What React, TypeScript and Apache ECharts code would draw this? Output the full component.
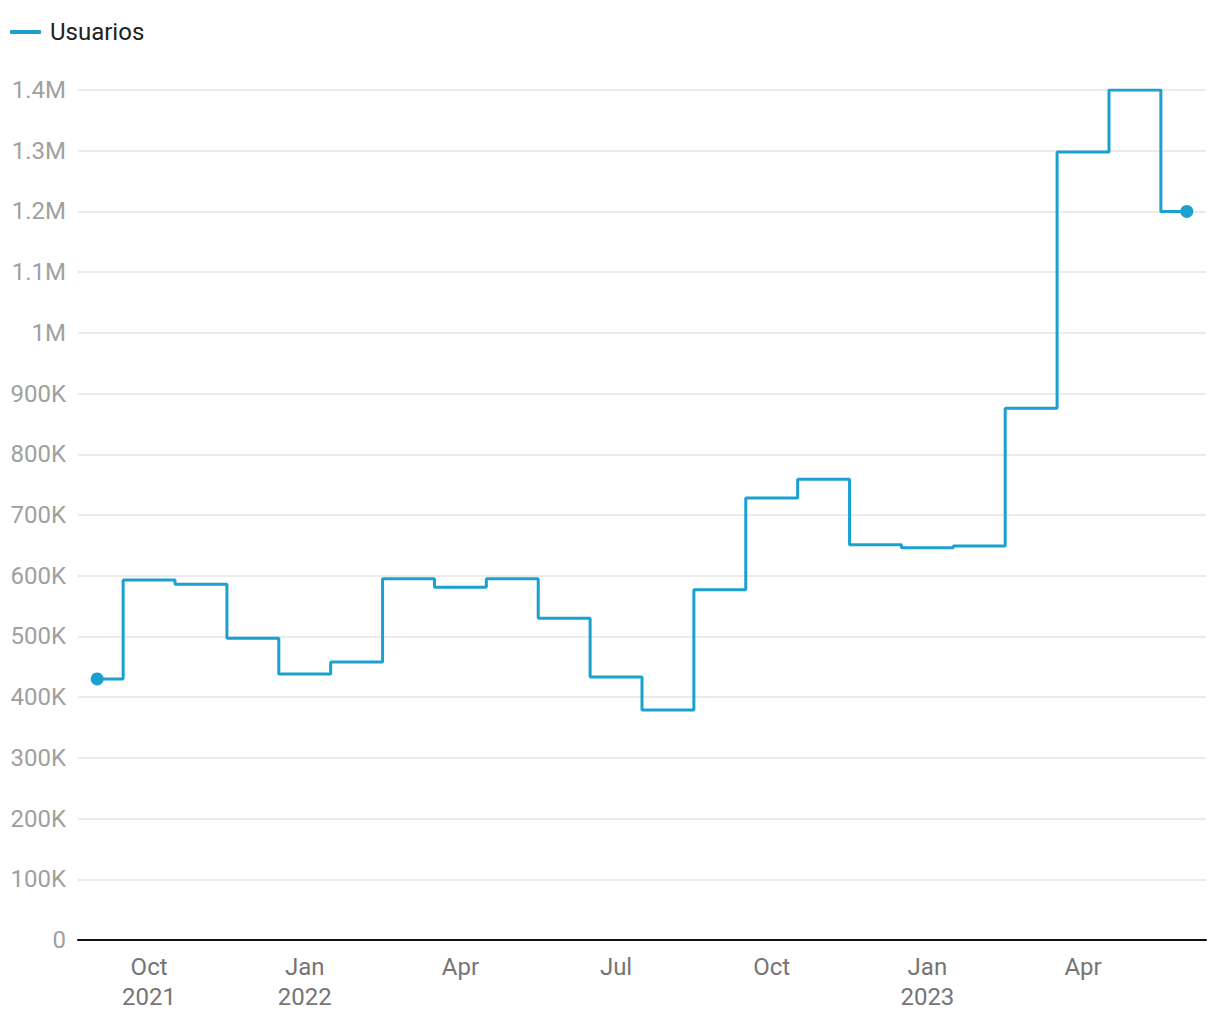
import React, { useEffect, useRef } from "react";
import * as echarts from "echarts";

const months = [
  "Sep 2021", "Oct 2021", "Nov 2021", "Dec 2021", "Jan 2022", "Feb 2022", "Mar 2022",
  "Apr 2022", "May 2022", "Jun 2022", "Jul 2022", "Aug 2022", "Sep 2022", "Oct 2022",
  "Nov 2022", "Dec 2022", "Jan 2023", "Feb 2023", "Mar 2023", "Apr 2023", "May 2023", "Jun 2023",
];
const usuarios = [
  430000, 593000, 586000, 497000, 438000, 458000, 595000, 581000, 595000, 530000, 433000,
  379000, 577000, 728000, 759000, 651000, 646000, 649000, 876000, 1298000, 1400000, 1200000,
];
const xTickIndices = [1, 4, 7, 10, 13, 16, 19];
const xTickLabels = ["Oct\n2021", "Jan\n2022", "Apr", "Jul", "Oct", "Jan\n2023", "Apr"];

const fmtY = (v: number) => {
  if (v === 0) return "0";
  if (v >= 1000000) return (v / 1000000).toString() + "M";
  return (v / 1000).toString() + "K";
};

export default function App() {
  const ref = useRef<HTMLDivElement>(null);
  useEffect(() => {
    if (!ref.current) return;
    const chart = echarts.init(ref.current, undefined, { renderer: "svg" });
    const last = usuarios.length - 1;
    chart.setOption({
      animation: false,
      textStyle: { fontFamily: "Roboto" },
      legend: {
        left: 5,
        top: 15,
        icon: "roundRect",
        itemWidth: 31,
        itemHeight: 4,
        textStyle: { fontSize: 24, color: "#212121", fontFamily: "Roboto", padding: [0, 0, 0, 4] },
        data: [{ name: "Usuarios", itemStyle: { color: "#1ba1d0" } }],
      },
      grid: { left: 78, right: 14, top: 90, bottom: 80, containLabel: false },
      xAxis: {
        type: "value",
        min: -0.37,
        max: last + 0.37,
        splitLine: { show: false },
        axisTick: { show: false },
        axisLine: { show: true, onZero: false, lineStyle: { color: "#111", width: 2 } },
        axisLabel: {
          customValues: xTickIndices,
          color: "#757575",
          fontSize: 24,
          lineHeight: 30,
          margin: 12,
          fontFamily: "Roboto",
          formatter: (v: number) => {
            const i = xTickIndices.indexOf(Math.round(v));
            return i >= 0 ? xTickLabels[i] : "";
          },
        },
      },
      yAxis: {
        type: "value",
        min: 0,
        max: 1400000,
        interval: 100000,
        axisLine: { show: false },
        axisTick: { show: false },
        splitLine: { lineStyle: { color: "#e4e4e4", width: 1.5 } },
        axisLabel: {
          color: "#a0a0a0",
          fontSize: 24,
          margin: 12,
          fontFamily: "Roboto",
          formatter: fmtY,
        },
      },
      series: [
        {
          name: "Usuarios",
          type: "line",
          step: "middle",
          symbol: "none",
          showSymbol: true,
          lineStyle: { color: "#1ba1d0", width: 3 },
          itemStyle: { color: "#1ba1d0" },
          data: usuarios.map((v, i) =>
            i === 0 || i === last
              ? { value: [i, v], symbol: "circle", symbolSize: 13 }
              : { value: [i, v] }
          ),
        },
      ],
    });
    return () => chart.dispose();
  }, []);
  return (
    <div
      ref={ref}
      style={{ position: "fixed", left: 0, top: 0, width: 1220, height: 1020, background: "#fff" }}
    />
  );
}
